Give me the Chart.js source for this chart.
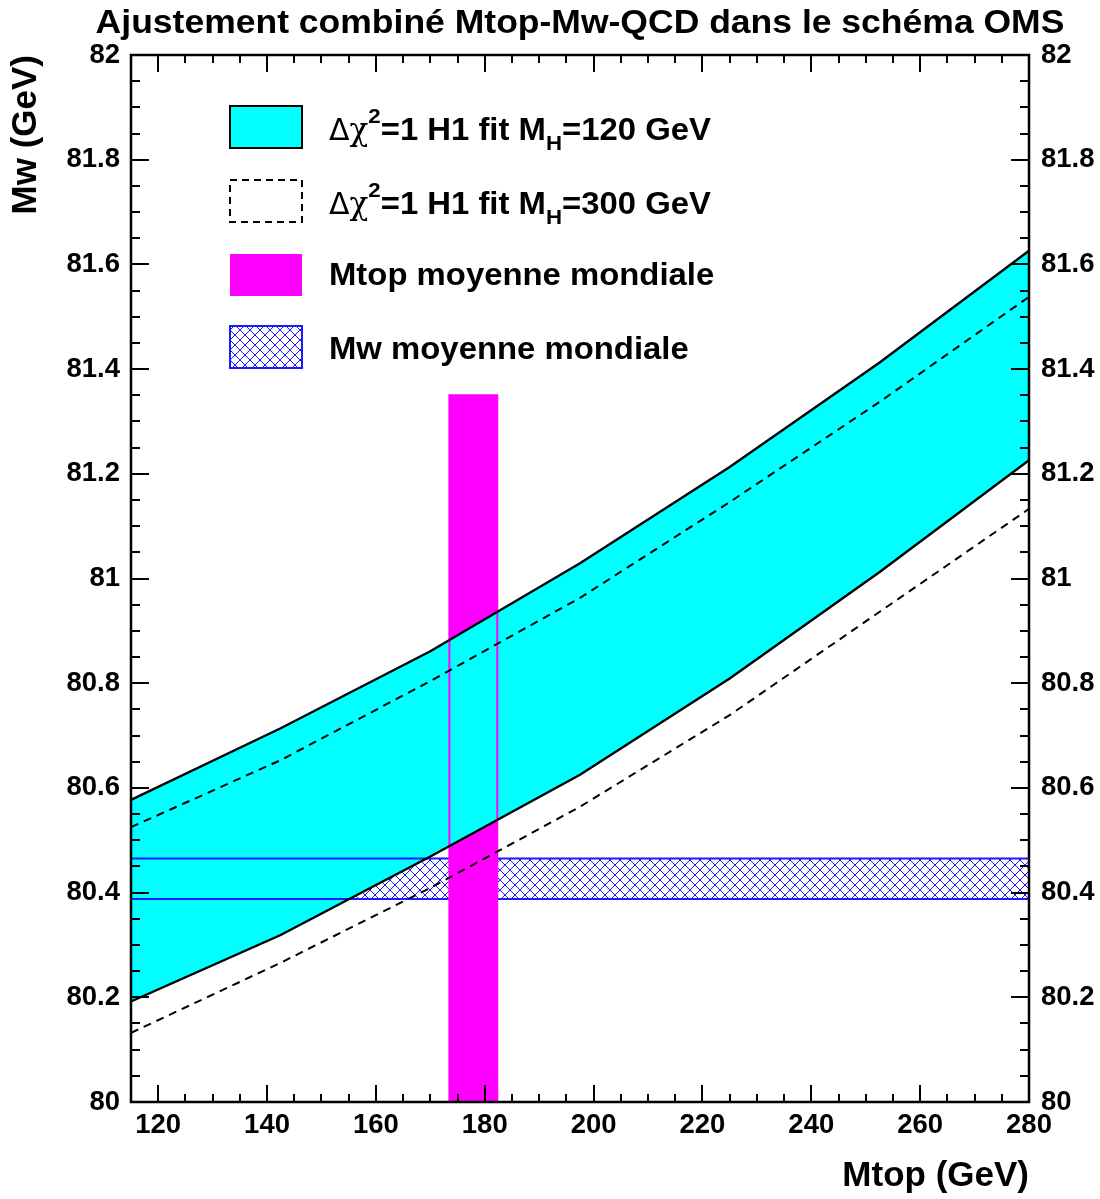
<!DOCTYPE html>
<html>
<head>
<meta charset="utf-8">
<script src="https://cdn.jsdelivr.net/npm/chart.js@4.4.1/dist/chart.umd.min.js"></script>
<style>
html,body{margin:0;padding:0;background:#fff;}
#wrap{width:1100px;height:1199px;position:relative;}
</style>
</head>
<body>
<div id="wrap"><canvas id="c"></canvas></div>
<script>
// ---------------- data ----------------
const mtopNodes   = [115, 142.5, 170, 197.5, 225, 252.5, 280];
const mh120Upper  = [80.577, 80.714, 80.861, 81.029, 81.213, 81.412, 81.626];
const mh120Lower  = [80.192, 80.319, 80.469, 80.625, 80.809, 81.012, 81.226];
const mh300Upper  = [80.525, 80.653, 80.804, 80.963, 81.146, 81.337, 81.538];
const mh300Lower  = [80.132, 80.266, 80.409, 80.564, 80.739, 80.936, 81.133];
const mtopWorldBand = [173.5, 182.3];   // Mtop moyenne mondiale (GeV)
const mtopWorldTop  = 81.35;            // top of the drawn bar
const mwWorldBand   = [80.388, 80.465]; // Mw moyenne mondiale (GeV)
const xRange = [115, 280];
const yRange = [80, 82];
const xTickLabels = [120, 140, 160, 180, 200, 220, 240, 260, 280];
const yTickLabels = [80, 80.2, 80.4, 80.6, 80.8, 81, 81.2, 81.4, 81.6, 81.8, 82];
const titleText = 'Ajustement combiné Mtop-Mw-QCD dans le schéma OMS';
const xTitle = 'Mtop (GeV)';
const yTitle = 'Mw (GeV)';
const legendLabels = ['=120 GeV', '=300 GeV', 'Mtop moyenne mondiale', 'Mw moyenne mondiale'];

// ---------------- styles ----------------
const FONT = "'Liberation Sans', Arial, Helvetica, sans-serif";
const CYAN = '#00ffff', MAGENTA = '#ff00ff', BLUE = '#1a1aff';
const SX = 1.06; // horizontal stretch of the ROOT-like text

function makeHatch() {
  const n = 10;
  const c = document.createElement('canvas');
  c.width = n; c.height = n;
  const g = c.getContext('2d');
  g.strokeStyle = BLUE; g.lineWidth = 1;
  g.beginPath();
  g.moveTo(-1, -1); g.lineTo(n + 1, n + 1);
  g.moveTo(n + 1, -1); g.lineTo(-1, n + 1);
  g.stroke();
  return g.createPattern(c, 'repeat');
}
const hatch = makeHatch();

const pts = (xs, ys) => xs.map((x, i) => ({x: x, y: ys[i]}));
const splitLine = (y) => [
  {x: xRange[0], y: y}, {x: mtopWorldBand[0], y: y},
  {x: mtopWorldBand[0], y: null},
  {x: mtopWorldBand[1], y: y}, {x: xRange[1], y: y}
];
const flat = (y) => [{x: xRange[0], y: y}, {x: xRange[1], y: y}];

const base = {pointRadius: 0, pointHoverRadius: 0, tension: 0, fill: false, spanGaps: false};

const datasets = [
  Object.assign({}, base, {label: 'mh300u', data: pts(mtopNodes, mh300Upper), borderColor: '#000', borderWidth: 2, borderDash: [8, 6], order: 1}),
  Object.assign({}, base, {label: 'mh300l', data: pts(mtopNodes, mh300Lower), borderColor: '#000', borderWidth: 2, borderDash: [8, 6], order: 1}),
  Object.assign({}, base, {label: 'mh120u', data: pts(mtopNodes, mh120Upper), borderColor: '#000', borderWidth: 2.4, order: 2}),
  Object.assign({}, base, {label: 'mh120l', data: pts(mtopNodes, mh120Lower), borderColor: '#000', borderWidth: 2.4, order: 2}),
  Object.assign({}, base, {label: 'mtopEdge', data: [
      {x: mtopWorldBand[0], y: yRange[0]}, {x: mtopWorldBand[0], y: mtopWorldTop},
      {x: mtopWorldBand[1], y: mtopWorldTop}, {x: mtopWorldBand[1], y: yRange[0]}],
    borderColor: MAGENTA, borderWidth: 2, order: 3}),
  Object.assign({}, base, {label: 'mwU', data: splitLine(mwWorldBand[1]), borderColor: BLUE, borderWidth: 2, order: 4}),
  Object.assign({}, base, {label: 'mwL', data: splitLine(mwWorldBand[0]), borderColor: BLUE, borderWidth: 2, order: 4}),
  Object.assign({}, base, {label: 'bandU', data: pts(mtopNodes, mh120Upper), borderWidth: 0, borderColor: 'rgba(0,0,0,0)', backgroundColor: CYAN, fill: '+1', order: 5}),
  Object.assign({}, base, {label: 'bandL', data: pts(mtopNodes, mh120Lower), borderWidth: 0, borderColor: 'rgba(0,0,0,0)', order: 5}),
  Object.assign({}, base, {label: 'mtopBar', data: [{x: mtopWorldBand[0], y: mtopWorldTop}, {x: mtopWorldBand[1], y: mtopWorldTop}],
    borderWidth: 0, borderColor: 'rgba(0,0,0,0)', backgroundColor: MAGENTA, fill: 'start', order: 6}),
  Object.assign({}, base, {label: 'mwHatchU', data: flat(mwWorldBand[1]), borderWidth: 0, borderColor: 'rgba(0,0,0,0)', backgroundColor: hatch, fill: '+1', order: 7}),
  Object.assign({}, base, {label: 'mwHatchL', data: flat(mwWorldBand[0]), borderWidth: 0, borderColor: 'rgba(0,0,0,0)', order: 7})
];

function stretchText(ctx, s, x, y, size, weight, family, sx) {
  ctx.save();
  ctx.font = weight + ' ' + size + 'px ' + (family || FONT);
  ctx.textAlign = 'left';
  ctx.textBaseline = 'alphabetic';
  ctx.translate(x, y);
  ctx.scale(sx, 1);
  ctx.fillText(s, 0, 0);
  const w = ctx.measureText(s).width * sx;
  ctx.restore();
  return w;
}

const framePlugin = {
  id: 'frameTicks',
  afterDatasetsDraw(chart) {
    const ctx = chart.ctx, a = chart.chartArea;
    const xs = chart.scales.x, ys = chart.scales.y;
    ctx.save();
    ctx.strokeStyle = '#000';
    ctx.lineWidth = 2;
    ctx.beginPath();
    for (let i = 0; i <= 40; i++) {
      const v = yRange[0] + i * 0.05;
      const p = Math.round(ys.getPixelForValue(v));
      const len = (i % 4 === 0) ? 18 : 9;
      ctx.moveTo(a.left, p); ctx.lineTo(a.left + len, p);
      ctx.moveTo(a.right, p); ctx.lineTo(a.right - len, p);
    }
    for (let v = 115; v <= 280; v += 5) {
      const p = Math.round(xs.getPixelForValue(v));
      const len = (v % 20 === 0) ? 17 : 8;
      ctx.moveTo(p, a.bottom); ctx.lineTo(p, a.bottom - len);
      ctx.moveTo(p, a.top); ctx.lineTo(p, a.top + len);
    }
    ctx.stroke();
    ctx.lineWidth = 2.5;
    ctx.strokeRect(a.left, a.top, a.right - a.left, a.bottom - a.top);
    ctx.restore();
  },
  afterDraw(chart) {
    const ctx = chart.ctx;
    ctx.save();
    ctx.fillStyle = '#000';
    const tsize = 33.5;
    ctx.font = 'bold ' + tsize + 'px ' + FONT;
    const tw = ctx.measureText(titleText).width * SX;
    stretchText(ctx, titleText, 580 - tw / 2, 33, tsize, 'bold', FONT, SX);

    const bx = 230, bw = 72, bh = 42;
    const rows = [106, 180, 254, 326];
    ctx.fillStyle = CYAN;
    ctx.fillRect(bx, rows[0], bw, bh);
    ctx.strokeStyle = '#000'; ctx.lineWidth = 2;
    ctx.strokeRect(bx, rows[0], bw, bh);
    ctx.setLineDash([7, 5]);
    ctx.strokeRect(bx, rows[1], bw, bh);
    ctx.setLineDash([]);
    ctx.fillStyle = MAGENTA;
    ctx.fillRect(bx, rows[2], bw, bh);
    ctx.fillStyle = '#fff';
    ctx.fillRect(bx, rows[3], bw, bh);
    ctx.fillStyle = hatch;
    ctx.fillRect(bx, rows[3], bw, bh);
    ctx.strokeStyle = BLUE; ctx.lineWidth = 2;
    ctx.strokeRect(bx, rows[3], bw, bh);

    ctx.fillStyle = '#000';
    const tx = 329, ls = 31;
    [0, 1].forEach(function (r) {
      const yb = rows[r] + 34;
      let x = tx;
      x += stretchText(ctx, '\u0394', x, yb, 30, 'normal', "'DejaVu Sans', sans-serif", 1.0);
      x += stretchText(ctx, '\u03C7', x, yb, 31, 'normal', "'DejaVu Serif', serif", 1.0);
      x += stretchText(ctx, '2', x, yb - 17, 21, 'bold', FONT, SX);
      x += stretchText(ctx, '=1 H1 fit M', x, yb, ls, 'bold', FONT, SX);
      x += stretchText(ctx, 'H', x, yb + 10, 21, 'bold', FONT, SX);
      stretchText(ctx, legendLabels[r], x, yb, ls, 'bold', FONT, SX);
    });
    stretchText(ctx, legendLabels[2], tx, rows[2] + 31, ls, 'bold', FONT, SX);
    stretchText(ctx, legendLabels[3], tx, rows[3] + 33, ls, 'bold', FONT, SX);
    ctx.restore();
  }
};

const tickFmt = (v) => String(Math.round(v * 10) / 10);
const tickFont = {family: FONT, size: 27.5, weight: 'bold'};
const axisTitleFont = {family: FONT, size: 35, weight: 'bold'};

new Chart(document.getElementById('c'), {
  type: 'line',
  data: {datasets: datasets},
  options: {
    responsive: true,
    maintainAspectRatio: false,
    animation: false,
    events: [],
    layout: {padding: {top: 55, left: 0, right: 0, bottom: 0}},
    plugins: {legend: {display: false}, tooltip: {enabled: false}, title: {display: false}},
    elements: {line: {borderCapStyle: 'butt'}},
    scales: {
      x: {
        type: 'linear', min: xRange[0], max: xRange[1],
        grid: {display: false, drawTicks: false},
        border: {display: false},
        afterBuildTicks: (s) => { s.ticks = xTickLabels.map(v => ({value: v})); },
        afterFit: (s) => { s.height = 97; },
        ticks: {padding: 7, color: '#000', font: tickFont, maxRotation: 0, autoSkip: false, callback: tickFmt},
        title: {display: true, text: xTitle, align: 'end', color: '#000', font: axisTitleFont, padding: {top: 0, bottom: 2}}
      },
      y: {
        type: 'linear', position: 'left', min: yRange[0], max: yRange[1],
        grid: {display: false, drawTicks: false},
        border: {display: false},
        afterBuildTicks: (s) => { s.ticks = yTickLabels.map(v => ({value: v})); },
        afterFit: (s) => { s.width = 131; },
        ticks: {padding: 11, color: '#000', font: tickFont, autoSkip: false, callback: tickFmt},
        title: {display: true, text: yTitle, align: 'end', color: '#000', font: axisTitleFont, padding: {top: 5, bottom: 0}}
      },
      y2: {
        type: 'linear', position: 'right', min: yRange[0], max: yRange[1],
        grid: {display: false, drawTicks: false},
        border: {display: false},
        afterBuildTicks: (s) => { s.ticks = yTickLabels.map(v => ({value: v})); },
        afterFit: (s) => { s.width = 71; },
        ticks: {padding: 12, color: '#000', font: tickFont, autoSkip: false, callback: tickFmt}
      }
    }
  },
  plugins: [framePlugin]
});
</script>
</body>
</html>
